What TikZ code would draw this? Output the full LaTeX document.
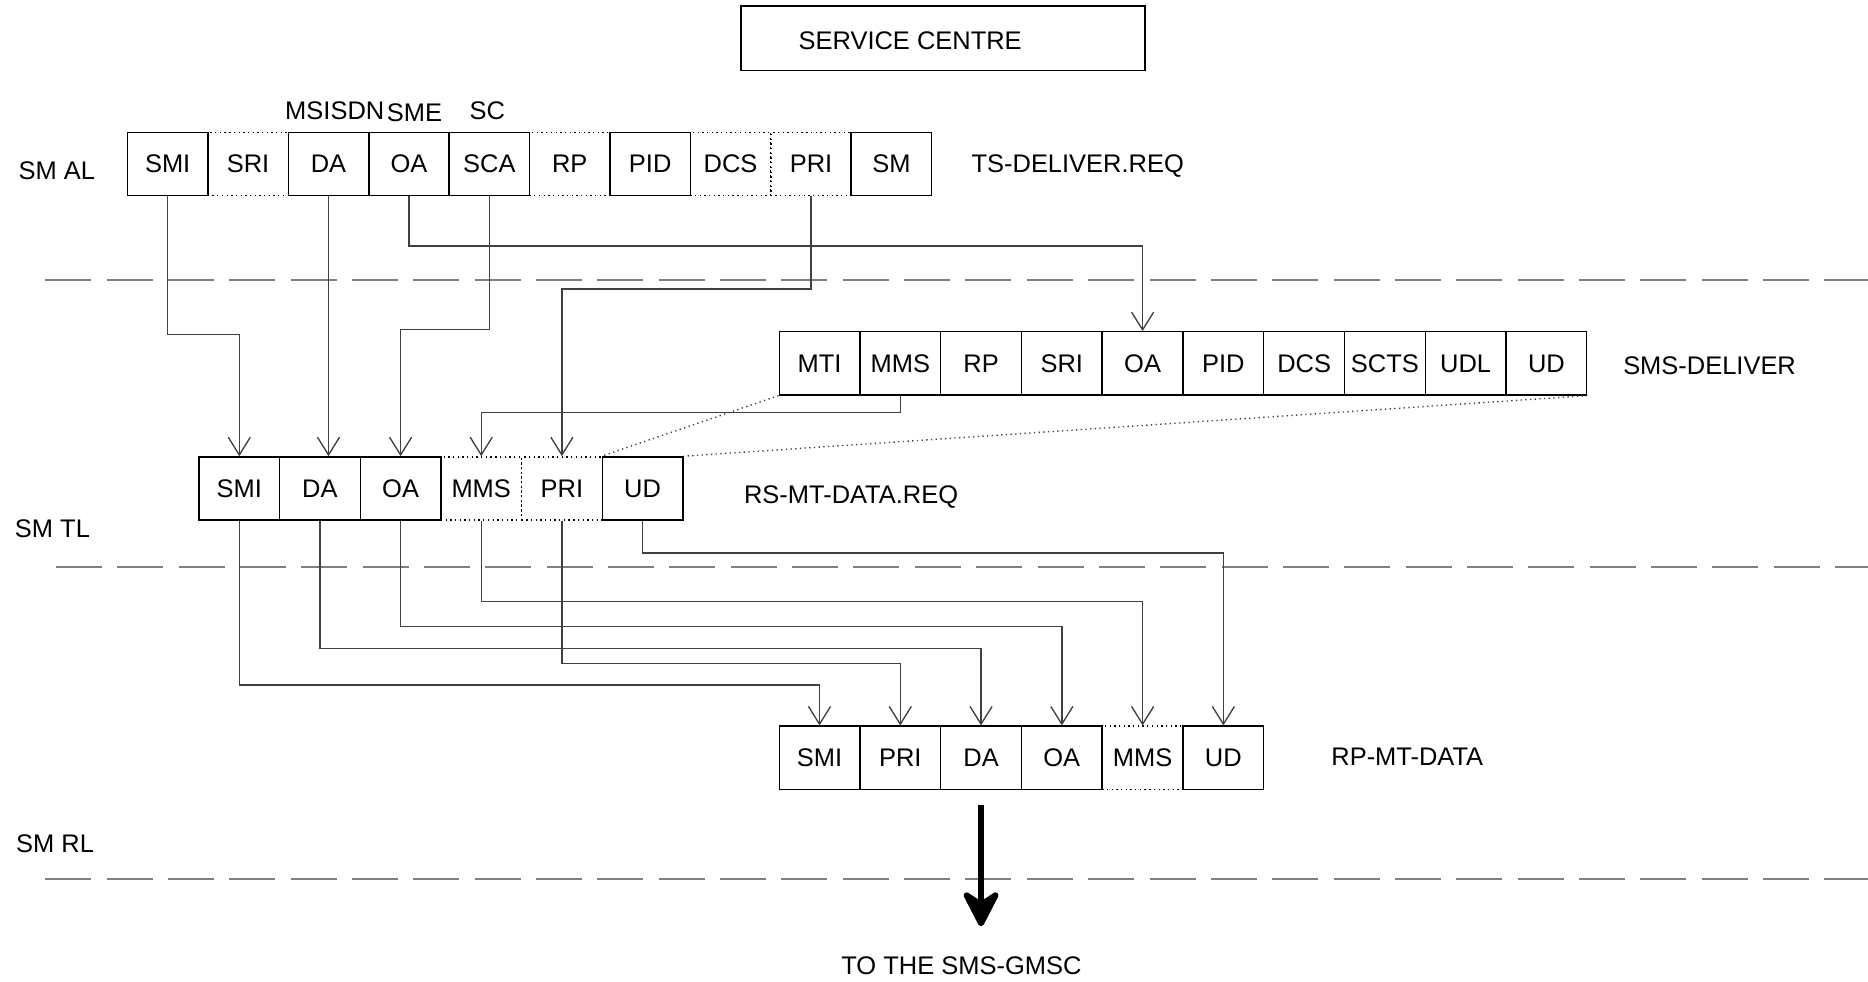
\documentclass[tikz,border=0pt]{standalone}
\usepackage{fontspec}
\setmainfont{Liberation Sans}
\usetikzlibrary{arrows.meta}

\begin{document}
\begin{tikzpicture}[x=0.0125cm, y=-0.0125cm,
        every node/.style={font=\fontsize{7.6}{9}\selectfont},
        field/.style={draw, inner sep=0pt, minimum width=0.846cm, minimum height=0.6625cm},
        dfield/.style={field, densely dotted},
        lbl/.style={anchor=west, inner sep=0pt},
        conn/.style={draw=black!75, -{Straight Barb[length=5.3pt, width=6.6pt]}},
        expand/.style={draw=black!75, densely dotted},
        layer/.style={draw=gray, line width=0.6pt, dash pattern=on 0.4825cm off 0.161cm},
        bigarrow/.style={line width=1.8pt, -{Stealth[length=0.45cm, width=0.46cm, inset=0.15cm, round]}}]
        \useasboundingbox (0,0) rectangle (1568,824);

        % Layer boundaries
        \draw[layer] (38,235) -- (1568,235);
        \draw[layer] (47,476) -- (1568,476);
        \draw[layer] (38,738) -- (1568,738);

        \node[lbl] (al) at (15,143) {SM AL};
        \node[lbl] (tl) at (12,444) {SM TL};
        \node[lbl] (rl) at (13,708) {SM RL};

        % Service centre
        \node[draw, minimum width=4.2375cm, minimum height=0.675cm] (centre) at (791.5,32) {};
        \node (centre-txt) at (764,34) {SERVICE CENTRE};

        % TS-DELIVER.REQ
        \foreach \f/\s [count=\i from 0] in {SMI/field, SRI/dfield, DA/field, OA/field, SCA/field, RP/dfield, PID/field, DCS/dfield, PRI/dfield, SM/field}
            \node[\s] (al-\f) at (140.75+\i*67.5, 137.5) {\f};
        \node (msisdn) at (281,93) {MSISDN};
        \node (sme) at (348,95) {SME};
        \node (sc) at (409,93) {SC};
        \node[lbl] (ts-req) at (815,139) {TS-DELIVER.REQ};

        % SMS-DELIVER
        \foreach \f [count=\i from 0] in {MTI, MMS, RP, SRI, OA, PID, DCS, SCTS, UDL, UD}
            \node[field] (sms-\f) at (687.9+\i*67.8, 305) {\f};
        \node[lbl] (sms-deliver) at (1362,307) {SMS-DELIVER};

        % RS-MT-DATA.REQ
        \foreach \f/\s [count=\i from 0] in {SMI/field, DA/field, OA/field, MMS/dfield, PRI/dfield, UD/field}
            \node[\s] (tl-\f) at (200.85+\i*67.7, 410) {\f};
        \node[lbl] (rs-req) at (624,417) {RS-MT-DATA.REQ};

        % RP-MT-DATA
        \foreach \f/\s [count=\i from 0] in {SMI/field, PRI/field, DA/field, OA/field, MMS/dfield, UD/field}
            \node[\s] (rl-\f) at (687.9+\i*67.8, 636) {\f};
        \node[lbl] (rp-data) at (1117,635) {RP-MT-DATA};

        % Mapping SM AL -> SM TL
        \draw[conn] (al-SMI.south) -- ++(0,116) -| (tl-SMI.north);
        \draw[conn] (al-DA.south) -- (al-DA.south |- tl-DA.north);
        \draw[conn] (al-OA.south) -- ++(0,42) -| (sms-OA.north);
        \draw[conn] (al-SCA.south) -- ++(0,112) -| (tl-OA.north);
        \draw[conn] (al-PRI.south) -- ++(0,78) -| (tl-PRI.north);
        \draw[conn] (sms-MMS.south) -- ++(0,14) -| (tl-MMS.north);
        \draw[expand] (sms-MTI.south west) -- (tl-UD.north west);
        \draw[expand] (sms-UD.south east) -- (tl-UD.north east);

        % Mapping SM TL -> SM RL
        \draw[conn] (tl-SMI.south) -- ++(0,138) -| (rl-SMI.north);
        \draw[conn] (tl-DA.south) -- ++(0,107) -| (rl-DA.north);
        \draw[conn] (tl-OA.south) -- ++(0,89) -| (rl-OA.north);
        \draw[conn] (tl-MMS.south) -- ++(0,68) -| (rl-MMS.north);
        \draw[conn] (tl-PRI.south) -- ++(0,120) -| (rl-PRI.north);
        \draw[conn] (tl-UD.south) -- ++(0,27) -| (rl-UD.north);

        % Towards the GMSC
        \node (gmsc) at (807,811) {TO THE SMS-GMSC};
        \draw[bigarrow] ([yshift=-0.16cm]rl-DA.south) -- ([yshift=0.2cm]rl-DA.south |- gmsc.north);
\end{tikzpicture}
\end{document}
